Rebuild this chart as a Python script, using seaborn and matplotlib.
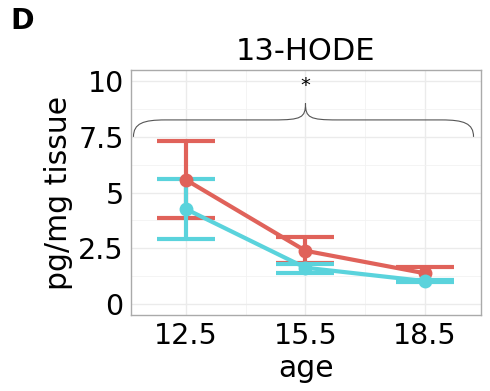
import numpy as np
import pandas as pd
import matplotlib.pyplot as plt
import seaborn as sns
from matplotlib.path import Path
from matplotlib.patches import PathPatch

# Values
ages = [12.5, 15.5, 18.5]
groups = ['A', 'B']
mean_a = [5.57, 2.39, 1.38]
low_a = [3.85, 1.85, 1.05]
high_a = [7.32, 3.00, 1.68]
mean_b = [4.26, 1.63, 1.03]
low_b = [2.92, 1.38, 1.00]
high_b = [5.60, 1.80, 1.07]
colors = ['#E0625A', '#5AD3DC']

# Bracket spanning all ages with significance star
brace_x = [11.18, 15.5, 19.72]
brace_y = [7.5, 8.26, 9.0]
star_y = 9.8

df = pd.DataFrame({
    'age': ages * 2,
    'value': mean_a + mean_b,
    'group': [groups[0]] * 3 + [groups[1]] * 3,
})

sns.set_style('whitegrid')
plt.rcParams['font.family'] = ['DejaVu Sans']
plt.rcParams['text.color'] = 'black'
plt.rcParams['axes.labelcolor'] = 'black'

fig = plt.figure(figsize=(4.9, 3.91), dpi=100)
ax = fig.add_axes([0.2667, 0.1944, 0.7143, 0.6266])

# error bars
for mean, lo, hi, c in [(mean_a, low_a, high_a, colors[0]), (mean_b, low_b, high_b, colors[1])]:
    m = np.array(mean)
    err = [m - np.array(lo), np.array(hi) - m]
    ax.errorbar(ages, mean, yerr=err, fmt='none', ecolor=c, elinewidth=3,
                capsize=21, capthick=3, zorder=3)

sns.lineplot(data=df, x='age', y='value', hue='group', palette=colors,
             marker='o', markersize=10, markeredgewidth=0, linewidth=3,
             legend=False, ax=ax, zorder=4)

# curly bracket
x0, xm, x1 = brace_x
yb, yl, yt = brace_y
r = 0.8
verts = [
    (x0, yb),
    (x0, yl - 0.15), (x0 + 0.25, yl), (x0 + r, yl),
    (xm - r, yl),
    (xm - 0.1, yl), (xm, yl + 0.1), (xm, yt),
    (xm, yl + 0.1), (xm + 0.1, yl), (xm + r, yl),
    (x1 - r, yl),
    (x1 - 0.25, yl), (x1, yl - 0.15), (x1, yb),
]
codes = [Path.MOVETO,
         Path.CURVE4, Path.CURVE4, Path.CURVE4,
         Path.LINETO,
         Path.CURVE4, Path.CURVE4, Path.CURVE4,
         Path.CURVE4, Path.CURVE4, Path.CURVE4,
         Path.LINETO,
         Path.CURVE4, Path.CURVE4, Path.CURVE4]
ax.add_patch(PathPatch(Path(verts, codes), fill=False, edgecolor='#555555', lw=0.8, zorder=5))
ax.text(xm, star_y, '*', ha='center', va='center', fontsize=14, color='black')

ax.set_xlim(11.11, 19.9)
ax.set_ylim(-0.49, 10.5)
ax.set_xticks(ages)
ax.set_xticklabels(['12.5', '15.5', '18.5'])
ax.set_xticks([14, 17], minor=True)
ax.set_yticks([0, 2.5, 5, 7.5, 10])
ax.set_yticklabels(['0', '2.5', '5', '7.5', '10'])
ax.set_yticks([1.25, 3.75, 6.25, 8.75], minor=True)
ax.grid(which='major', color='#EBEBEB', lw=1.0)
ax.grid(which='minor', color='#F2F2F2', lw=0.6)
for s in ax.spines.values():
    s.set_color('#AAAAAA')
    s.set_linewidth(1.0)
ax.tick_params(which='major', length=3, color='#AAAAAA', labelsize=20.5, labelcolor='black', pad=2)
ax.tick_params(which='minor', length=0)

ax.set_xlabel('age', fontsize=21.5, labelpad=3)
ax.set_ylabel('pg/mg tissue', fontsize=21.5, labelpad=4)
ax.set_title('13-HODE', fontsize=22, pad=7)
fig.text(0.022, 0.925, 'D', fontsize=20.5, fontweight='bold')

fig.savefig('out.png', dpi=100)
